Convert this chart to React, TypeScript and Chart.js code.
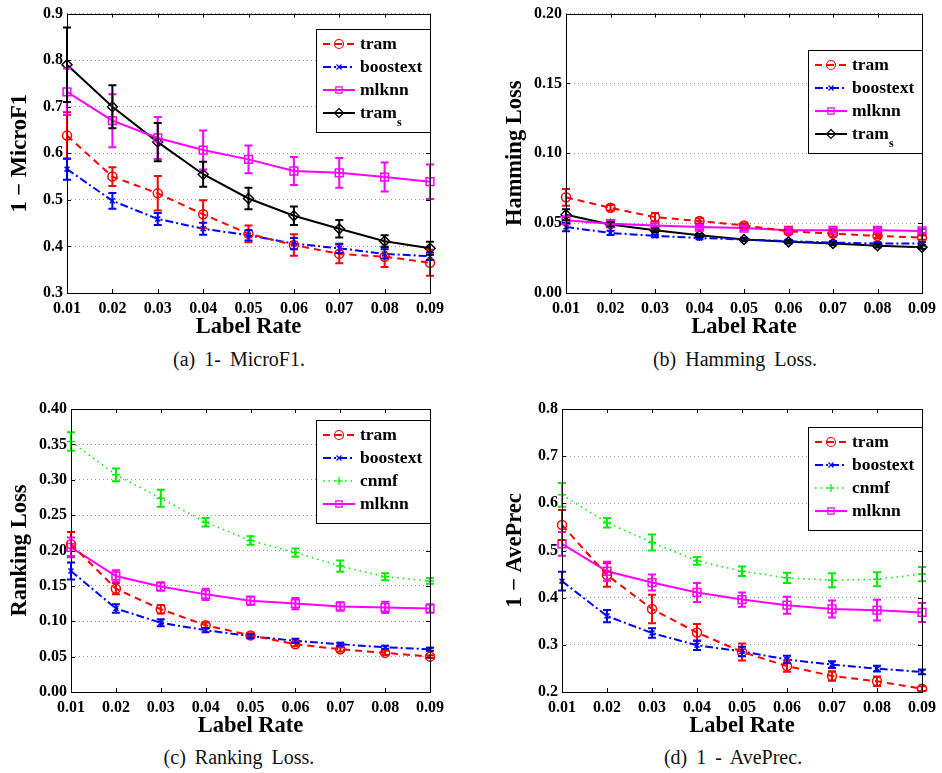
import React, { useEffect, useRef } from 'react';
import { Chart, registerables } from 'chart.js';

Chart.register(...registerables);

const FONT = "'Liberation Serif', 'Times New Roman', Times, serif";

// ---------- data ----------
const labelRates = ['0.01', '0.02', '0.03', '0.04', '0.05', '0.06', '0.07', '0.08', '0.09'];

// (a) 1 - MicroF1
const microTram = [0.638, 0.55, 0.514, 0.469, 0.427, 0.403, 0.384, 0.378, 0.365];
const microTramErr = [0.05, 0.02, 0.037, 0.03, 0.018, 0.023, 0.02, 0.022, 0.028];
const microBoostext = [0.566, 0.498, 0.459, 0.438, 0.424, 0.406, 0.396, 0.384, 0.379];
const microBoostextErr = [0.023, 0.017, 0.013, 0.013, 0.011, 0.012, 0.01, 0.01, 0.008];
const microMlknn = [0.732, 0.67, 0.633, 0.607, 0.587, 0.562, 0.558, 0.549, 0.539];
const microMlknnErr = [0.05, 0.057, 0.045, 0.042, 0.03, 0.03, 0.032, 0.031, 0.037];
const microTramS = [0.79, 0.7, 0.624, 0.555, 0.503, 0.466, 0.438, 0.411, 0.396];
const microTramSErr = [0.08, 0.046, 0.041, 0.027, 0.023, 0.02, 0.019, 0.013, 0.014];
const microTicks = [0.3, 0.9, 0.1];

// (b) Hamming Loss
const hamTram = [0.0685, 0.061, 0.0543, 0.0515, 0.0484, 0.0442, 0.0425, 0.0409, 0.0397];
const hamTramErr = [0.006, 0.002, 0.003, 0.002, 0.0015, 0.0015, 0.002, 0.0015, 0.0015];
const hamBoostext = [0.0472, 0.043, 0.0409, 0.0394, 0.0383, 0.0371, 0.0361, 0.0354, 0.0354];
const hamBoostextErr = [0.003, 0.0015, 0.001, 0.001, 0.001, 0.001, 0.001, 0.001, 0.001];
const hamMlknn = [0.052, 0.0496, 0.0484, 0.0472, 0.0465, 0.0449, 0.0449, 0.0449, 0.0444];
const hamMlknnErr = [0.003, 0.0015, 0.0015, 0.0015, 0.0015, 0.0015, 0.0015, 0.0015, 0.0015];
const hamTramS = [0.056, 0.0491, 0.0449, 0.0413, 0.0383, 0.0366, 0.0354, 0.0338, 0.0328];
const hamTramSErr = [0.004, 0.0015, 0.0012, 0.0012, 0.0012, 0.0012, 0.0012, 0.0012, 0.0012];
const hamTicks = [0, 0.2, 0.05];

// (c) Ranking Loss
const rankTram = [0.209, 0.146, 0.117, 0.0944, 0.08, 0.0675, 0.0604, 0.0553, 0.05];
const rankTramErr = [0.017, 0.008, 0.006, 0.004, 0.003, 0.003, 0.003, 0.003, 0.002];
const rankBoostext = [0.171, 0.118, 0.0978, 0.0874, 0.0789, 0.0723, 0.0675, 0.0633, 0.0604];
const rankBoostextErr = [0.012, 0.006, 0.005, 0.003, 0.003, 0.003, 0.002, 0.002, 0.002];
const rankCnmf = [0.354, 0.307, 0.274, 0.24, 0.214, 0.197, 0.178, 0.163, 0.157];
const rankCnmfErr = [0.013, 0.009, 0.012, 0.006, 0.006, 0.006, 0.008, 0.005, 0.004];
const rankMlknn = [0.2045, 0.164, 0.149, 0.138, 0.129, 0.125, 0.121, 0.1195, 0.118];
const rankMlknnErr = [0.014, 0.008, 0.006, 0.008, 0.006, 0.008, 0.006, 0.008, 0.006];
const rankTicks = [0, 0.4, 0.05];

// (d) 1 - AvePrec
const aveTram = [0.554, 0.448, 0.376, 0.326, 0.285, 0.255, 0.234, 0.2227, 0.207];
const aveTramErr = [0.032, 0.025, 0.03, 0.018, 0.018, 0.012, 0.01, 0.01, 0.005];
const aveBoostext = [0.435, 0.361, 0.325, 0.299, 0.286, 0.269, 0.258, 0.2496, 0.2425];
const aveBoostextErr = [0.02, 0.013, 0.01, 0.01, 0.01, 0.008, 0.007, 0.006, 0.005];
const aveCnmf = [0.618, 0.559, 0.517, 0.478, 0.456, 0.442, 0.437, 0.439, 0.45];
const aveCnmfErr = [0.025, 0.01, 0.017, 0.008, 0.01, 0.011, 0.015, 0.015, 0.015];
const aveMlknn = [0.514, 0.456, 0.432, 0.411, 0.396, 0.384, 0.376, 0.3735, 0.3686];
const aveMlknnErr = [0.025, 0.02, 0.017, 0.02, 0.015, 0.018, 0.018, 0.022, 0.02];
const aveTicks = [0.2, 0.8, 0.1];

// ---------- styles ----------
type Style = { color: string; dash: number[]; point: string; radius: number; width: number };
const STYLES: Record<string, Style> = {
  tram: { color: '#ff0000', dash: [7, 5], point: 'circle', radius: 4.5, width: 2 },
  boostext: { color: '#0000ff', dash: [8, 3, 2, 3], point: 'crossRot', radius: 3.5, width: 2 },
  mlknn: { color: '#ff00ff', dash: [], point: 'rect', radius: 5.5, width: 2 },
  trams: { color: '#000000', dash: [], point: 'rectRot', radius: 5, width: 2 },
  cnmf: { color: '#00ee00', dash: [1.5, 4], point: 'cross', radius: 4, width: 1.5 },
};

function series(label: string, key: string, data: number[], errors: number[], sub?: string) {
  const s = STYLES[key];
  return {
    label,
    sub,
    styleKey: key,
    data,
    errors,
    borderColor: s.color,
    borderDash: s.dash,
    borderWidth: s.width,
    pointStyle: s.point,
    pointRadius: s.radius,
    pointHoverRadius: s.radius,
    pointBorderColor: s.color,
    pointBackgroundColor: 'rgba(0,0,0,0)',
    pointBorderWidth: 1.5,
    fill: false,
    tension: 0,
  };
}

// ---------- plugins ----------
const errorBarPlugin = {
  id: 'errorBars',
  afterDatasetsDraw(chart: any) {
    const { ctx } = chart;
    const xs = chart.scales.x;
    const ys = chart.scales.y;
    chart.data.datasets.forEach((ds: any) => {
      const errs = ds.errors;
      if (!errs) return;
      ctx.save();
      ctx.strokeStyle = ds.borderColor;
      ctx.lineWidth = 2;
      ctx.setLineDash([]);
      ds.data.forEach((v: number, i: number) => {
        const px = xs.getPixelForValue(i);
        const t = ys.getPixelForValue(v + errs[i]);
        const b = ys.getPixelForValue(v - errs[i]);
        ctx.beginPath();
        ctx.moveTo(px, t);
        ctx.lineTo(px, b);
        ctx.moveTo(px - 4, t);
        ctx.lineTo(px + 4, t);
        ctx.moveTo(px - 4, b);
        ctx.lineTo(px + 4, b);
        ctx.stroke();
      });
      ctx.restore();
    });
  },
};

const framePlugin = {
  id: 'frame',
  afterDraw(chart: any) {
    const { ctx, chartArea } = chart;
    const { left, right, top, bottom } = chartArea;
    const xs = chart.scales.x;
    const ys = chart.scales.y;
    ctx.save();
    ctx.setLineDash([]);
    ctx.strokeStyle = '#000';
    ctx.lineWidth = 1;
    ctx.strokeRect(Math.round(left) + 0.5, Math.round(top) + 0.5, Math.round(right - left), Math.round(bottom - top));
    ctx.beginPath();
    xs.ticks.forEach((_: any, i: number) => {
      const px = Math.round(xs.getPixelForTick(i)) + 0.5;
      ctx.moveTo(px, top);
      ctx.lineTo(px, top + 4);
      ctx.moveTo(px, bottom);
      ctx.lineTo(px, bottom - 4);
    });
    ys.ticks.forEach((_: any, i: number) => {
      const py = Math.round(ys.getPixelForTick(i)) + 0.5;
      ctx.moveTo(left, py);
      ctx.lineTo(left + 4, py);
      ctx.moveTo(right, py);
      ctx.lineTo(right - 4, py);
    });
    ctx.stroke();
    ctx.restore();
  },
};

function drawMarker(ctx: CanvasRenderingContext2D, style: string, x: number, y: number, r: number) {
  ctx.beginPath();
  if (style === 'circle') {
    ctx.arc(x, y, r, 0, Math.PI * 2);
  } else if (style === 'rect') {
    const s = r * Math.SQRT1_2;
    ctx.rect(x - s, y - s, 2 * s, 2 * s);
  } else if (style === 'rectRot') {
    ctx.moveTo(x, y - r);
    ctx.lineTo(x + r, y);
    ctx.lineTo(x, y + r);
    ctx.lineTo(x - r, y);
    ctx.closePath();
  } else if (style === 'crossRot') {
    const s = r * Math.SQRT1_2;
    ctx.moveTo(x - s, y - s);
    ctx.lineTo(x + s, y + s);
    ctx.moveTo(x - s, y + s);
    ctx.lineTo(x + s, y - s);
  } else if (style === 'cross') {
    ctx.moveTo(x - r, y);
    ctx.lineTo(x + r, y);
    ctx.moveTo(x, y - r);
    ctx.lineTo(x, y + r);
  }
  ctx.stroke();
}

const boxLegendPlugin = {
  id: 'boxLegend',
  afterDraw(chart: any, _args: any, opts: any) {
    const { ctx, chartArea } = chart;
    const w = 114;
    const h = 103;
    const bx = Math.round(chartArea.right - w);
    const by = Math.round(chartArea.top + (opts.top || 0));
    ctx.save();
    ctx.fillStyle = '#fff';
    ctx.fillRect(bx, by, w, h);
    ctx.strokeStyle = '#000';
    ctx.lineWidth = 1;
    ctx.setLineDash([]);
    ctx.strokeRect(bx + 0.5, by + 0.5, w, h);
    chart.data.datasets.forEach((ds: any, i: number) => {
      const cy = by + 15 + i * 23;
      ctx.strokeStyle = ds.borderColor;
      ctx.lineWidth = ds.borderWidth;
      ctx.setLineDash(ds.borderDash || []);
      ctx.beginPath();
      ctx.moveTo(bx + 7, cy);
      ctx.lineTo(bx + 39, cy);
      ctx.stroke();
      ctx.setLineDash([]);
      ctx.lineWidth = 1.2;
      drawMarker(ctx, ds.pointStyle, bx + 23, cy, Math.min(ds.pointRadius, 4.5));
      ctx.fillStyle = '#000';
      ctx.font = `bold 17.5px ${FONT}`;
      ctx.textBaseline = 'middle';
      ctx.textAlign = 'left';
      ctx.fillText(ds.label, bx + 44, cy);
      if (ds.sub) {
        const tw = ctx.measureText(ds.label).width;
        ctx.font = `bold 12px ${FONT}`;
        ctx.fillText(ds.sub, bx + 44 + tw, cy + 10);
      }
    });
    ctx.restore();
  },
};

// ---------- chart component ----------
type PanelProps = {
  left: number;
  top: number;
  width: number;
  height: number;
  padLeft: number;
  padTop: number;
  padRight: number;
  yWidth: number;
  xHeight: number;
  yTitle: string;
  ticks: number[];
  decimals: number;
  legendTop: number;
  datasets: any[];
};

function Panel(p: PanelProps) {
  const ref = useRef<HTMLCanvasElement | null>(null);
  useEffect(() => {
    if (!ref.current) return;
    const chart = new Chart(ref.current, {
      type: 'line',
      data: { labels: labelRates, datasets: p.datasets },
      options: {
        responsive: false,
        animation: false,
        events: [],
        layout: { padding: { left: p.padLeft, top: p.padTop, right: p.padRight, bottom: 0 } },
        plugins: {
          legend: { display: false },
          tooltip: { enabled: false },
          boxLegend: { top: p.legendTop },
        } as any,
        scales: {
          x: {
            type: 'category',
            offset: false,
            grid: { display: false, drawTicks: false },
            border: { display: false },
            ticks: {
              color: '#000',
              font: { family: FONT, size: 16, weight: 'bold' },
              padding: 6,
              maxRotation: 0,
              autoSkip: false,
            },
            title: {
              display: true,
              text: 'Label Rate',
              color: '#000',
              font: { family: FONT, size: 22.5, weight: 'bold' },
              padding: { top: 0, bottom: 4 },
            },
            afterFit: (s: any) => {
              s.height = p.xHeight;
            },
          },
          y: {
            type: 'linear',
            min: p.ticks[0],
            max: p.ticks[1],
            grid: { display: true, drawTicks: false, color: '#9a9a9a', lineWidth: 1 },
            border: { display: false, dash: [1, 3] },
            ticks: {
              stepSize: p.ticks[2],
              color: '#000',
              font: { family: FONT, size: 16, weight: 'bold' },
              padding: 4,
              callback: (v: any) => Number(v).toFixed(p.decimals),
            },
            title: {
              display: true,
              text: p.yTitle,
              color: '#000',
              font: { family: FONT, size: 22.5, weight: 'bold' },
              padding: { top: 7, bottom: 0 },
            },
            afterFit: (s: any) => {
              s.width = p.yWidth;
            },
          },
        },
      } as any,
      plugins: [errorBarPlugin, framePlugin, boxLegendPlugin],
    });
    return () => chart.destroy();
  }, []);
  return (
    <canvas
      ref={ref}
      width={p.width}
      height={p.height}
      style={{ position: 'absolute', left: p.left, top: p.top, width: p.width, height: p.height }}
    />
  );
}

function Caption({ x, y, text }: { x: number; y: number; text: string }) {
  return (
    <div
      style={{
        position: 'absolute',
        left: x,
        top: y,
        transform: 'translate(-50%, -50%)',
        whiteSpace: 'pre',
        fontFamily: FONT,
        fontSize: 20,
        wordSpacing: 4,
        color: '#111',
        lineHeight: 1,
      }}
    >
      {text}
    </div>
  );
}

export default function App() {
  const dsA = [
    series('tram', 'tram', microTram, microTramErr),
    series('boostext', 'boostext', microBoostext, microBoostextErr),
    series('mlknn', 'mlknn', microMlknn, microMlknnErr),
    series('tram', 'trams', microTramS, microTramSErr, 's'),
  ];
  const dsB = [
    series('tram', 'tram', hamTram, hamTramErr),
    series('boostext', 'boostext', hamBoostext, hamBoostextErr),
    series('mlknn', 'mlknn', hamMlknn, hamMlknnErr),
    series('tram', 'trams', hamTramS, hamTramSErr, 's'),
  ];
  const dsC = [
    series('tram', 'tram', rankTram, rankTramErr),
    series('boostext', 'boostext', rankBoostext, rankBoostextErr),
    series('cnmf', 'cnmf', rankCnmf, rankCnmfErr),
    series('mlknn', 'mlknn', rankMlknn, rankMlknnErr),
  ];
  const dsD = [
    series('tram', 'tram', aveTram, aveTramErr),
    series('boostext', 'boostext', aveBoostext, aveBoostextErr),
    series('cnmf', 'cnmf', aveCnmf, aveCnmfErr),
    series('mlknn', 'mlknn', aveMlknn, aveMlknnErr),
  ];
  return (
    <div style={{ position: 'absolute', left: 0, top: 0, width: 942, height: 773, background: '#fff', overflow: 'hidden' }}>
      <Panel left={0} top={0} width={471} height={345} padLeft={0} padTop={11} padRight={41} yWidth={67} xHeight={52}
        yTitle="1 − MicroF1" ticks={microTicks} decimals={1} legendTop={15} datasets={dsA} />
      <Panel left={471} top={0} width={471} height={345} padLeft={24} padTop={11} padRight={17} yWidth={71} xHeight={52}
        yTitle="Hamming Loss" ticks={hamTicks} decimals={2} legendTop={36} datasets={dsB} />
      <Panel left={0} top={386} width={471} height={358} padLeft={0} padTop={23} padRight={41} yWidth={71} xHeight={52}
        yTitle="Ranking Loss" ticks={rankTicks} decimals={2} legendTop={11} datasets={dsC} />
      <Panel left={471} top={386} width={471} height={358} padLeft={24} padTop={23} padRight={17} yWidth={67} xHeight={52}
        yTitle="1 − AvePrec" ticks={aveTicks} decimals={1} legendTop={18} datasets={dsD} />
      <Caption x={239} y={359} text="(a) 1- MicroF1." />
      <Caption x={735} y={359} text="(b) Hamming Loss." />
      <Caption x={239} y={757} text="(c) Ranking Loss." />
      <Caption x={733} y={757} text="(d) 1 - AvePrec." />
    </div>
  );
}
